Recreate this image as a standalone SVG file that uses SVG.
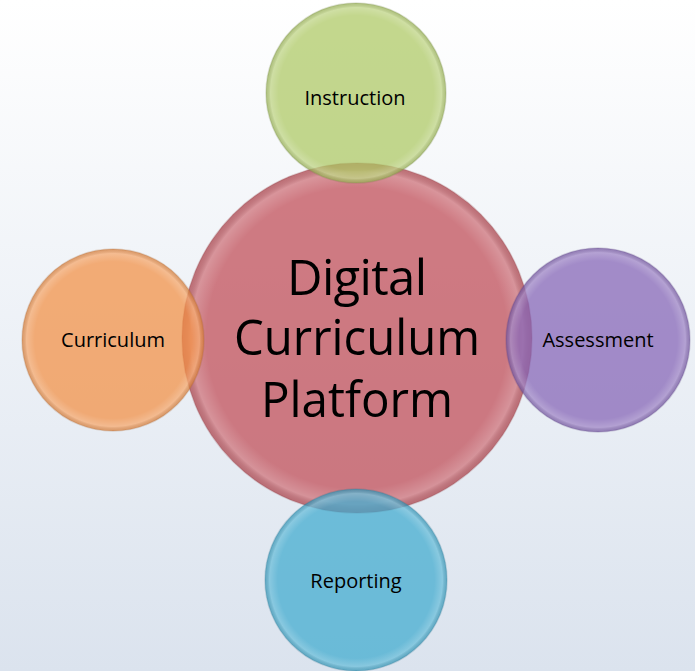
<svg xmlns="http://www.w3.org/2000/svg" width="695" height="671" viewBox="0 0 695 671">
  <defs>
    <linearGradient id="bg" x1="0" y1="0" x2="0" y2="1">
      <stop offset="0" stop-color="#ffffff"/>
      <stop offset="1" stop-color="#dbe3ee"/>
    </linearGradient>
    <radialGradient id="rim" cx="0.5" cy="0.5" r="0.5">
      <stop offset="0" stop-color="#ffffff" stop-opacity="0"/>
      <stop offset="0.86" stop-color="#ffffff" stop-opacity="0"/>
      <stop offset="0.95" stop-color="#ffffff" stop-opacity="0.2"/>
      <stop offset="1" stop-color="#000000" stop-opacity="0.08"/>
    </radialGradient>
    <style>
      .disc { opacity: 0.72; }
      .edge { fill: none; stroke-width: 1.5; stroke-opacity: 0.22; }
      .lbl { font-family: "Open Sans", "Liberation Sans", sans-serif; font-size: 20px; fill: #000; text-anchor: middle; }
      .big { font-family: "Open Sans", "Liberation Sans", sans-serif; font-size: 49px; fill: #000; text-anchor: middle; }
    </style>
  </defs>
  <rect width="695" height="671" fill="url(#bg)"/>

  <g id="center">
    <circle cx="357" cy="338" r="175" fill="#c2535c" opacity="0.76"/>
    <circle cx="357" cy="338" r="175" fill="url(#rim)"/>
    <circle class="edge" cx="357" cy="338" r="175" stroke="#8a3a40"/>
    <text class="big" x="357" y="295" textLength="140">Digital</text>
    <text class="big" x="357" y="355" textLength="246" lengthAdjust="spacingAndGlyphs">Curriculum</text>
    <text class="big" x="357" y="417" textLength="192" lengthAdjust="spacingAndGlyphs">Platform</text>
  </g>

  <g id="instruction">
    <circle class="disc" cx="356" cy="93" r="90" fill="#acc861"/>
    <circle cx="356" cy="93" r="90" fill="url(#rim)"/>
    <circle class="edge" cx="356" cy="93" r="90" stroke="#6f7f40"/>
    <text class="lbl" x="355" y="105">Instruction</text>
  </g>

  <g id="curriculum">
    <circle class="disc" cx="113" cy="340" r="91" fill="#f28f42"/>
    <circle cx="113" cy="340" r="91" fill="url(#rim)"/>
    <circle class="edge" cx="113" cy="340" r="91" stroke="#a0602c"/>
    <text class="lbl" x="113" y="347">Curriculum</text>
  </g>

  <g id="assessment">
    <circle class="disc" cx="598" cy="340" r="92" fill="#8363b5"/>
    <circle cx="598" cy="340" r="92" fill="url(#rim)"/>
    <circle class="edge" cx="598" cy="340" r="92" stroke="#55407a"/>
    <text class="lbl" x="598" y="347">Assessment</text>
  </g>

  <g id="reporting">
    <circle class="disc" cx="356" cy="580" r="91" fill="#3eaacf"/>
    <circle cx="356" cy="580" r="91" fill="url(#rim)"/>
    <circle class="edge" cx="356" cy="580" r="91" stroke="#2a6f88"/>
    <text class="lbl" x="356" y="588">Reporting</text>
  </g>
</svg>
